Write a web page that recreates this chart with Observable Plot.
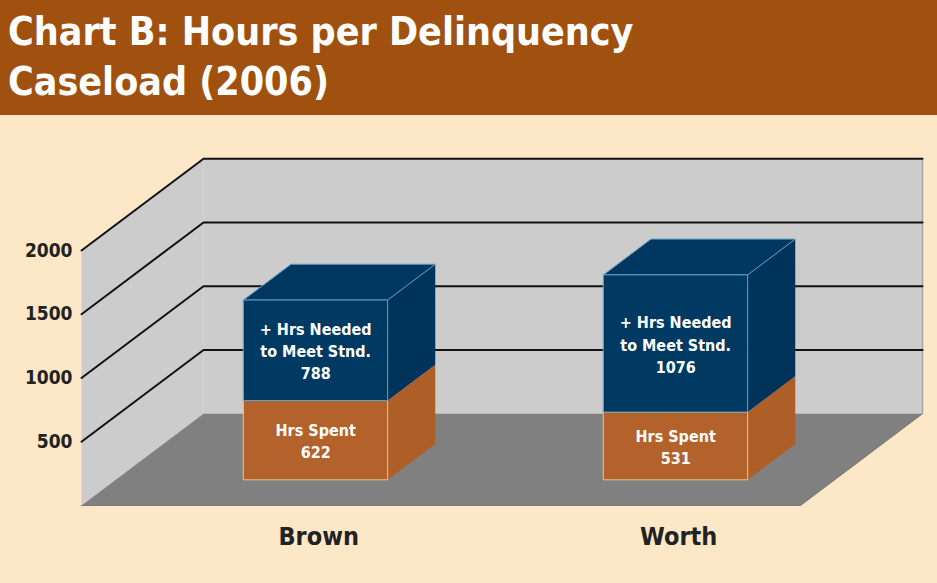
<!DOCTYPE html>
<html>
<head>
<meta charset="utf-8">
<script src="https://cdn.jsdelivr.net/npm/d3@7"></script>
<script src="https://cdn.jsdelivr.net/npm/@observablehq/plot@0.6"></script>
<style>
  html, body { margin: 0; padding: 0; background: #FCE8C6; }
  #title {
    height: 115px; box-sizing: border-box; background: #A0510F; color: #fff;
    font-family: "DejaVu Sans Condensed", "DejaVu Sans", sans-serif; font-weight: bold;
    font-size: 39px; line-height: 50px; padding: 7px 0 0 8px; white-space: nowrap;
  }
  #chart svg { display: block; }
</style>
</head>
<body>
<div id="title">Chart B: Hours per Delinquency<br>Caseload (2006)</div>
<div id="chart"></div>
<script>
// ---- data ----
const counties = ["Brown", "Worth"];
const hrsSpent = [622, 531];
const hrsNeeded = [788, 1076];
const yTicks = [500, 1000, 1500, 2000];
const spentLabel = "Hrs Spent";
const neededLabel = "+ Hrs Needed\nto Meet Stnd.";

// ---- 3D projection (data units: x = county index, y = hours, z = depth 0..1) ----
const U0 = -0.5556, U1 = 1.4417;   // wall extent in county units
const VMAX = 2000;
const DX = 0.339, DY = 720;         // depth vector
const HALF = 0.2, ZF = 0.28, ZB = 0.67; // bar half-width and depth range
const P = (u, v, z) => ({x: u + z * DX, y: v + z * DY});
const poly = (id, pts) => pts.map(([u, v, z]) => ({...P(u, v, z), id}));

const floor = poly("floor", [[U0,0,0],[U1,0,0],[U1,0,1],[U0,0,1]]);
const leftWall = poly("left", [[U0,0,0],[U0,0,1],[U0,VMAX,1],[U0,VMAX,0]]);
const backWall = poly("back", [[U0,0,1],[U1,0,1],[U1,VMAX,1],[U0,VMAX,1]]);
const backEdge = poly("edge", [[U1,0,1],[U1,VMAX,1]]);
const grid = yTicks.flatMap(v => poly("g" + v, [[U0,v,0],[U0,v,1],[U1,v,1]]));

const faces = {oFront: [], oSide: [], bFront: [], bSide: [], bTop: []};
counties.forEach((name, c) => {
  const a = hrsSpent[c], t = hrsSpent[c] + hrsNeeded[c];
  const l = c - HALF, r = c + HALF;
  faces.oFront.push(...poly(name, [[l,0,ZF],[r,0,ZF],[r,a,ZF],[l,a,ZF]]));
  faces.oSide.push(...poly(name, [[r,0,ZF],[r,0,ZB],[r,a,ZB],[r,a,ZF]]));
  faces.bFront.push(...poly(name, [[l,a,ZF],[r,a,ZF],[r,t,ZF],[l,t,ZF]]));
  faces.bSide.push(...poly(name, [[r,a,ZF],[r,a,ZB],[r,t,ZB],[r,t,ZF]]));
  faces.bTop.push(...poly(name, [[l,t,ZF],[r,t,ZF],[r,t,ZB],[l,t,ZB]]));
});

const labelsSpent = counties.map((name, c) => ({...P(c, hrsSpent[c] / 2, ZF), text: spentLabel + "\n" + hrsSpent[c]}));
const labelsNeeded = counties.map((name, c) => ({...P(c, hrsSpent[c] + hrsNeeded[c] / 2, ZF), text: neededLabel + "\n" + hrsNeeded[c]}));
const labelsCounty = counties.map((name, c) => ({x: P(c, 0, ZF).x, y: 0, text: name}));

const face = (data, fill, stroke, sw = 1) => Plot.line(data, {x: "x", y: "y", z: "id", curve: "linear-closed", fill, stroke, strokeWidth: sw, strokeLinejoin: "miter"});
const FONT = '"DejaVu Sans Condensed", "DejaVu Sans", sans-serif';

const chart = Plot.plot({
  width: 937, height: 468,
  marginLeft: 81, marginRight: 0, marginTop: 0, marginBottom: 0,
  style: {background: "transparent", fontFamily: FONT},
  x: {domain: [U0, U1], range: [81, 800], axis: null},
  y: {domain: [0, VMAX], range: [390, 135], label: null},
  marks: [
    face(floor, "#808080", "#777"),
    face(leftWall, "#CCCCCC", "none"),
    face(backWall, "#CCCCCC", "none"),
    Plot.line(backEdge, {x: "x", y: "y", z: "id", stroke: "#a8a8a8", strokeWidth: 1.5}),
    Plot.line(grid, {x: "x", y: "y", z: "id", stroke: "#111", strokeWidth: 2}),
    face(faces.oSide, "#AD5F27", "none"),
    face(faces.oFront, "#B2622A", "#EFC27F"),
    face(faces.bSide, "#00335A", "none"),
    face(faces.bTop, "#003760", "#5E9FC7"),
    face(faces.bFront, "#003A63", "#5E9FC7"),
    Plot.axisY({ticks: yTicks, tickSize: 0, tickPadding: 9, tickFormat: d => String(d), fontSize: 19, fontWeight: "bold", fill: "#222", label: null}),
    Plot.text(labelsNeeded, {x: "x", y: "y", text: "text", fill: "white", fontSize: 16, fontWeight: "bold", lineHeight: 1.38}),
    Plot.text(labelsSpent, {x: "x", y: "y", text: "text", fill: "white", fontSize: 16, fontWeight: "bold", lineHeight: 1.38}),
    Plot.text(labelsCounty, {x: "x", y: "y", text: "text", fill: "#222", fontSize: 25, fontWeight: "bold", dx: 3, dy: 31})
  ]
});
document.getElementById("chart").appendChild(chart);
</script>
</body>
</html>
